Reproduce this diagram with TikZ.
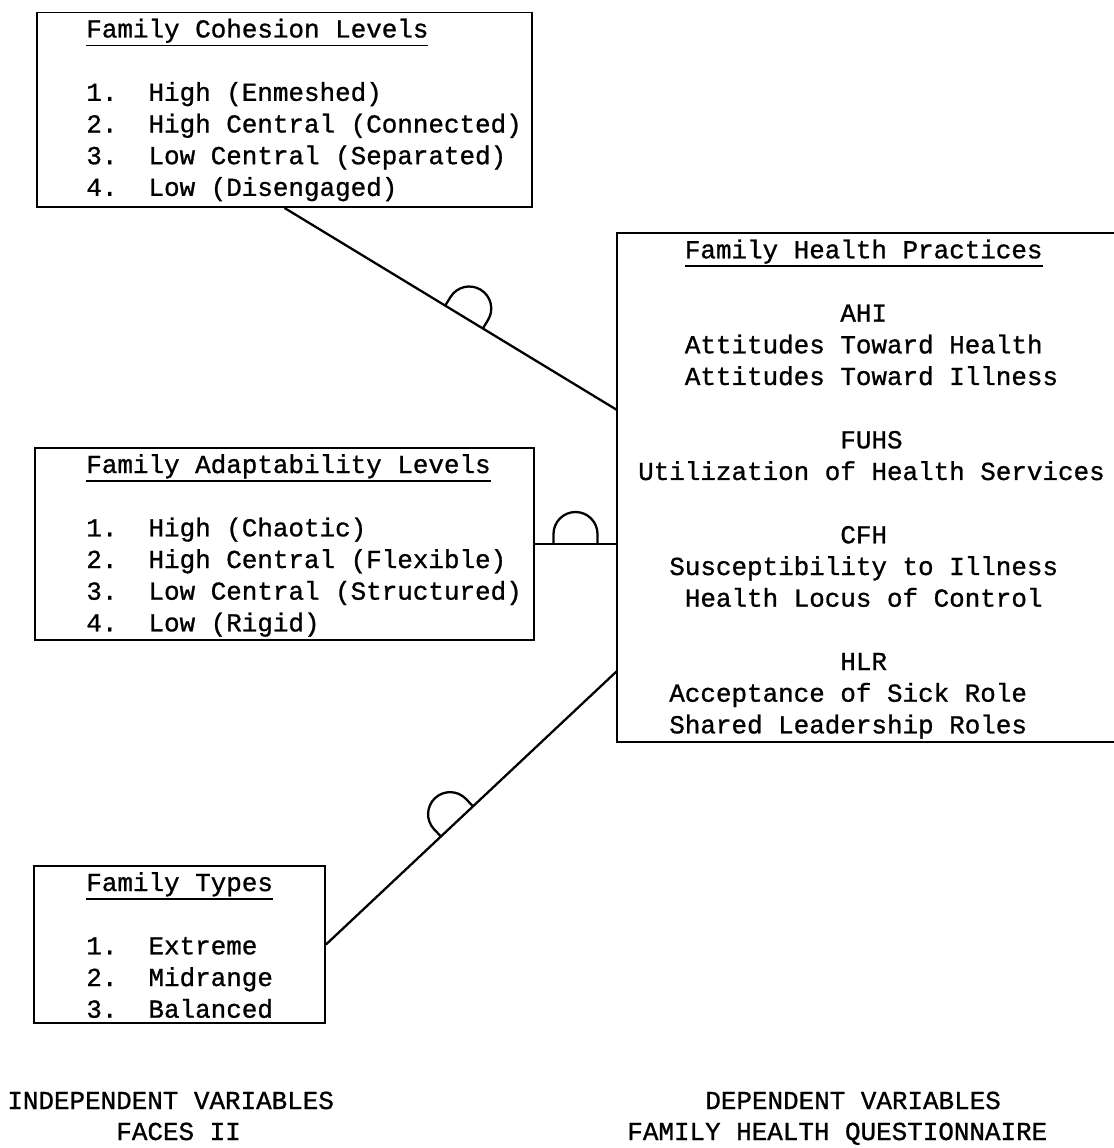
\documentclass[tikz,border=0pt]{standalone}
\usepackage{fontspec}
\setmonofont[FakeBold=1]{Liberation Mono}
\usetikzlibrary{fit}

\newcommand{\ulin}[1]{\setbox0\hbox{#1}\rlap{\rule[-5pt]{\wd0}{1pt}}\box0}

\tikzset{
	box/.style={draw, line width=1.1pt, inner sep=0pt},
	link/.style={line width=1.3pt},
	txt/.style={anchor=base west, inner sep=0pt, font=\ttfamily\fontsize{14.75}{18}\selectfont},
	arch/.pic={\draw[line width=1.3pt] (-22,0) -- (-22,-10) arc[start angle=180, end angle=360, radius=22] -- (22,0);}
}

\begin{document}
\begin{tikzpicture}[x=0.02cm, y=-0.02cm]
	\useasboundingbox (0,0) rectangle (1113,1148);

	% boxes
	\node[box, fit={(37,12.5) (532,207)}] (coh) {};
	\node[box, fit={(35,448) (534,640)}] (adapt) {};
	\node[box, fit={(34,866) (325,1023)}] (types) {};
	\node[box, fit={(617,233) (1240,742)}] (fhp) {};

	% independent variables
	\node[txt] (coh-t) at (86,37.5) {\ulin{Family Cohesion Levels}};
	\foreach \n/\lbl [count=\i] in {1./High (Enmeshed), 2./High Central (Connected), 3./Low Central (Separated), 4./Low (Disengaged)}
		\node[txt] (coh-\i) at (86,{37.5+(\i+1)*31.67}) {\makebox[35.4pt][l]{\n}\lbl};

	\node[txt] (adapt-t) at (86,473) {\ulin{Family Adaptability Levels}};
	\foreach \n/\lbl [count=\i] in {1./High (Chaotic), 2./High Central (Flexible), 3./Low Central (Structured), 4./Low (Rigid)}
		\node[txt] (adapt-\i) at (86,{473+(\i+1)*31.67}) {\makebox[35.4pt][l]{\n}\lbl};

	\node[txt] (types-t) at (86,891) {\ulin{Family Types}};
	\foreach \n/\lbl [count=\i] in {1./Extreme, 2./Midrange, 3./Balanced}
		\node[txt] (types-\i) at (86,{891+(\i+1)*31.67}) {\makebox[35.4pt][l]{\n}\lbl};

	% dependent variables
	\node[txt] (fhp-t) at (684.5,258.3) {\ulin{Family Health Practices}};
	\foreach \c/\k/\lbl in {0/2/AHI, -10/3/Attitudes Toward Health, -10/4/Attitudes Toward Illness,
		0/6/FUHS, -13/7/Utilization of Health Services,
		0/9/CFH, -11/10/Susceptibility to Illness, -10/11/Health Locus of Control,
		0/13/HLR, -11/14/Acceptance of Sick Role, -11/15/Shared Leadership Roles}
		\node[txt] (fhp-\k) at ({840+\c*15.55},{258.3+\k*31.67}) {\lbl};

	% connectors
	\coordinate (fhp-coh) at (617,410);
	\coordinate (fhp-types) at (617,671);
	\draw[link] (coh.south) -- (fhp-coh) pic[pos=.54, sloped] {arch};
	\draw[link] (adapt.east) -- (adapt.east -| fhp.west) pic[pos=.5, sloped] {arch};
	\draw[link] (types.east) -- (fhp-types) pic[pos=.45, sloped] {arch};

	% captions
	\node[txt] (iv) at (7,1109) {INDEPENDENT VARIABLES};
	\node[txt] (faces) at (116,1140) {FACES II};
	\node[txt] (dv) at (705,1109) {DEPENDENT VARIABLES};
	\node[txt] (fhq) at (627,1140) {FAMILY HEALTH QUESTIONNAIRE};
\end{tikzpicture}
\end{document}
